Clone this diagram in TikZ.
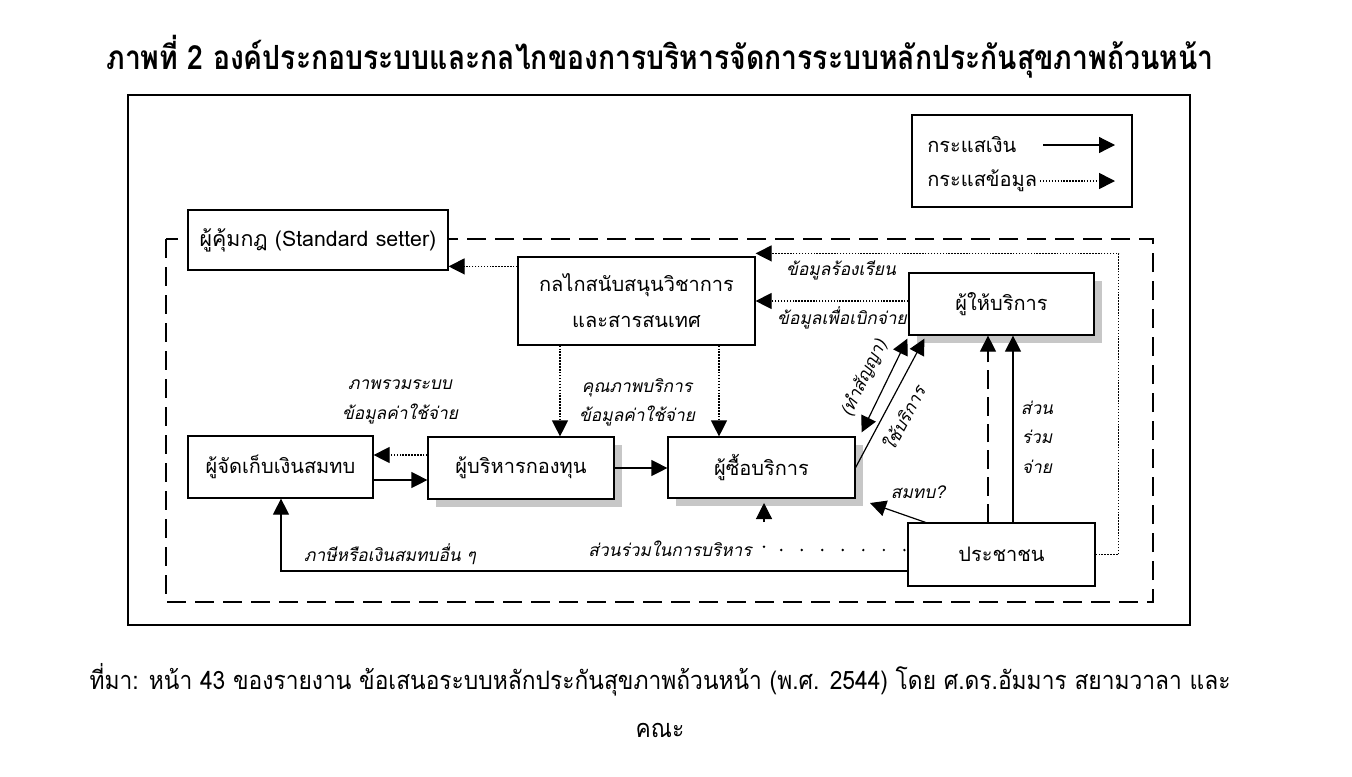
\documentclass[tikz,border=0pt]{standalone}
\usepackage{fontspec}
\setmainfont{Loma}[Script=Thai]
\newfontfamily\titlefont{Loma}[Script=Thai,FakeStretch=0.85]
\newfontfamily\srcfont{Loma}[Script=Thai,FakeStretch=0.9]
\usetikzlibrary{arrows.meta,shadows,calc}
\tikzset{
  box/.style={draw, line width=0.9pt, fill=white, inner sep=0pt, align=center,
    font=\fontsize{15}{27}\selectfont},
  shbox/.style={box, drop shadow={shadow xshift=6pt, shadow yshift=-6pt, fill=black!22, opacity=1}},
  tip/.style={},
  money/.style={line width=0.9pt, -{Triangle[length=12pt,width=12pt]}},
  infoflow/.style={money, dash pattern=on 1.1pt off 1.1pt},
  lbl/.style={font=\itshape\fontsize{13}{22}\selectfont, inner sep=0pt, align=center},
  frame/.style={line width=0.9pt},
  dframe/.style={line width=0.9pt, dash pattern=on 14pt off 7pt},
  sparse/.style={line width=2pt, line cap=round, dash pattern=on 0pt off 15.4pt}
}
\begin{document}
\begin{tikzpicture}[x=0.75pt,y=-0.75pt]
\useasboundingbox (0,0) rectangle (1352,776);
\fill[white] (0,0) rectangle (1352,776);

\node[font=\titlefont\bfseries\fontsize{25}{30}\selectfont, inner sep=0pt] (title) at (660,57)
  {ภาพที่ 2 องค์ประกอบระบบและกลไกของการบริหารจัดการระบบหลักประกันสุขภาพถ้วนหน้า};

\draw[frame] (128,95) rectangle (1190,625);
\draw[dframe] (166,239) rectangle (1153,602);

% legend
\draw[frame] (912,115) rectangle (1132,207);
\node[anchor=west, font=\fontsize{15}{18}\selectfont, inner sep=0pt] (lg1) at (927,145) {กระแสเงิน};
\node[anchor=west, font=\fontsize{15}{18}\selectfont, inner sep=0pt] (lg2) at (927,181) {กระแสข้อมูล};
\coordinate (lg1a) at (1043,145); \coordinate (lg1b) at (1115,145);
\coordinate (lg2a) at (1040,181); \coordinate (lg2b) at (1115,181);
\draw[money] (lg1a) -- (lg1b);
\draw[infoflow, line width=1.2pt] (lg2a) -- (lg2b);

% boxes
\node[box, font=\fontsize{16}{20}\selectfont, minimum width=260*0.75pt, minimum height=60*0.75pt] (setter) at (318,240) {ผู้คุ้มกฎ (Standard setter)};
\node[box, minimum width=237*0.75pt, minimum height=88*0.75pt] (info) at (636.5,301) {กลไกสนับสนุนวิชาการ\\และสารสนเทศ};
\node[shbox, minimum width=185*0.75pt, minimum height=62*0.75pt] (provider) at (1001.5,304) {ผู้ให้บริการ};
\node[box, minimum width=185*0.75pt, minimum height=62*0.75pt] (collector) at (280.5,467) {ผู้จัดเก็บเงินสมทบ};
\node[shbox, minimum width=186*0.75pt, minimum height=62*0.75pt] (fund) at (521,468) {ผู้บริหารกองทุน};
\node[shbox, minimum width=187*0.75pt, minimum height=61*0.75pt] (buyer) at (761.5,467.5) {ผู้ซื้อบริการ};
\node[box, minimum width=187*0.75pt, minimum height=63*0.75pt] (people) at (1001.5,554.5) {ประชาชน};

% info flows
\coordinate (i1) at ($(info.north west)+(0,10)$);
\draw[infoflow] (i1) -- (i1 -| setter.east);
\draw[infoflow] (people.east) -- ++(23,0) |- ($(info.north east)+(0,-3)$);
\node[lbl] (l1) at (841,270) {ข้อมูลร้องเรียน};
\coordinate (p1) at ($(provider.west)+(0,-3)$);
\draw[infoflow] (p1) -- (p1 -| info.east);
\node[lbl] (l2) at (842,318) {ข้อมูลเพื่อเบิกจ่าย};
\draw[infoflow] (info.south -| 560,0) -- (fund.north -| 560,0);
\draw[infoflow] (info.south -| 719,0) -- (buyer.north -| 719,0);
\node[lbl] (l3) at (400,402) {ภาพรวมระบบ\\ข้อมูลค่าใช้จ่าย};
\node[lbl] (l4) at (637,402) {คุณภาพบริการ\\ข้อมูลค่าใช้จ่าย};
\draw[infoflow] (fund.west |- 0,455) -- (collector.east |- 0,455);

% money flows
\draw[money] (collector.east |- 0,480) -- (fund.west |- 0,480);
\draw[money] (fund.east) -- (buyer.west |- fund.east);

\coordinate (c1a) at ($(buyer.north east)+(6,-4)$);
\coordinate (c1b) at ($(provider.south west)+(-1,3)$);
\draw[money, {Triangle[length=12pt,width=12pt]}-{Triangle[length=12pt,width=12pt]}] (c1a) -- (c1b);
\node[lbl, rotate=64] (l5) at (864,378) {(ทำสัญญา)};
\coordinate (c2b) at ($(provider.south west)+(16,3)$);
\draw[money] (buyer.east) -- (c2b);
\node[lbl, rotate=62] (l6) at (903,418) {ใช้บริการ};

\draw[money, dash pattern=on 14pt off 6pt] (people.north -| 988,0) -- (provider.south -| 988,0);
\draw[money] (people.north -| 1013,0) -- (provider.south -| 1013,0);
\node[lbl] (l7) at (1037,437) {ส่วน\\ร่วม\\จ่าย};

\draw[money] ($(people.north west)+(21,1)$) -- (870,503);
\node[lbl] (l8) at (918,492) {สมทบ?};

\coordinate (m1) at (764,550);
\draw[sparse] ($(people.west)+(-3,-4.5)$) -- (m1) -- (764,530);
\draw[money] (764,522) -- (764,503);
\node[lbl, anchor=east] (l9) at (752,549) {ส่วนร่วมในการบริหาร};

\coordinate (t1) at (281,571);
\draw[money] (people.west |- t1) -- (t1) -- (collector.south -| t1);
\node[lbl] (l10) at (390,554) {ภาษีหรือเงินสมทบอื่น ๆ};

% source
\node[font=\srcfont\fontsize{19}{22}\selectfont, inner sep=0pt] (src) at (660,680)
  {ที่มา: หน้า 43 ของรายงาน ข้อเสนอระบบหลักประกันสุขภาพถ้วนหน้า (พ.ศ. 2544) โดย ศ.ดร.อัมมาร สยามวาลา และ};
\node[font=\srcfont\fontsize{19}{22}\selectfont, inner sep=0pt] (src2) at (660,730) {คณะ};
\end{tikzpicture}
\end{document}
